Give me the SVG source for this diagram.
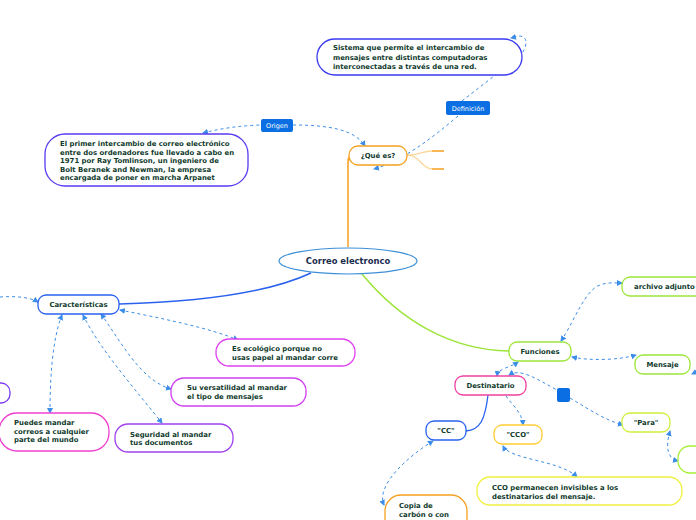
<svg xmlns="http://www.w3.org/2000/svg" width="696" height="520" viewBox="0 0 696 520">
<defs>
<marker id="ar" viewBox="0 0 6 6" refX="5" refY="3" markerWidth="6" markerHeight="6" orient="auto-start-reverse">
<path d="M0,0 L6,3 L0,6 Z" fill="#3d8ee8"/>
</marker>
</defs>
<style>
.n{fill:#fff;stroke-width:1.3}
.t{font-family:"DejaVu Sans",Verdana,sans-serif;font-weight:bold;font-size:6.9px;fill:#0f3a2c}
.d{fill:none;stroke:#3d8ee8;stroke-width:1;stroke-dasharray:3,3}
.lb{fill:#0b6fe3}
.lt{font-family:"DejaVu Sans",Verdana,sans-serif;font-size:6.5px;fill:#fff}
</style>
<rect width="696" height="520" fill="#fff"/>

<g id="connectors">
<path d="M348,247 L348,162 Q348,155 354,155" fill="none" stroke="#f5a020" stroke-width="1.5"/>
<path d="M407,155 C420,155 422,151 432,151 M407,155 C420,155 422,169 432,169" fill="none" stroke="#fcd79a" stroke-width="1.3"/>
<path d="M432,151 L444,151 M432,169 L444,169" stroke="#f5a020" stroke-width="1.5"/>
<path d="M311,273 C270,292 200,302 119,304" fill="none" stroke="#2a62ef" stroke-width="1.5"/>
<path d="M362,274 C400,320 450,350 509,351" fill="none" stroke="#9de53a" stroke-width="1.5"/>
<path d="M488,395 C485,420 480,430 466,431" fill="none" stroke="#2a62ef" stroke-width="1.3"/>

<path class="d" d="M203,133 Q230,126 261,125" marker-start="url(#ar)"/>
<path class="d" d="M293,125 C330,125 355,130 365,146" marker-end="url(#ar)"/>
<path class="d" d="M458,116 C430,140 400,162 374,169" marker-end="url(#ar)"/>
<path class="d" d="M462,101 L521,55 C528,45 528,36 519,36 L511,38" marker-end="url(#ar)"/>

<path class="d" d="M0,297 C15,296 30,297 38,302" marker-end="url(#ar)"/>
<path class="d" d="M120,310 C160,318 210,328 238,340" marker-start="url(#ar)" marker-end="url(#ar)"/>
<path class="d" d="M101,314 C120,340 140,380 171,389" marker-start="url(#ar)" marker-end="url(#ar)"/>
<path class="d" d="M83,315 C100,350 140,395 162,423" marker-start="url(#ar)" marker-end="url(#ar)"/>
<path class="d" d="M62,315 C52,340 50,380 50,413" marker-start="url(#ar)" marker-end="url(#ar)"/>

<path class="d" d="M561,341 C575,320 585,290 600,285 C608,282 615,283 622,283" marker-start="url(#ar)" marker-end="url(#ar)"/>
<path class="d" d="M572,357 C590,361 620,360 636,355" marker-start="url(#ar)" marker-end="url(#ar)"/>
<path class="d" d="M696,372 L692,374" marker-end="url(#ar)"/>
<path class="d" d="M497,376 C498,368 510,368 518,362" marker-start="url(#ar)" marker-end="url(#ar)"/>
<path class="d" d="M509,375 C520,368 535,378 557,390 M570,398 C590,410 605,420 623,425" marker-start="url(#ar)" marker-end="url(#ar)"/>
<path class="d" d="M506,396 C512,405 522,412 523,425" marker-end="url(#ar)"/>
<path class="d" d="M670,431 C666,445 666,458 678,461" marker-start="url(#ar)" marker-end="url(#ar)"/>
<path class="d" d="M503,446 C510,460 560,460 577,477" marker-start="url(#ar)" marker-end="url(#ar)"/>
<path class="d" d="M433,441 C410,455 375,485 384,505" marker-start="url(#ar)" marker-end="url(#ar)"/>
</g>

<g id="main">
<ellipse cx="348" cy="261" rx="69" ry="13" fill="#fff" stroke="#3d8fd8" stroke-width="1.2"/>
<text x="348" y="264" text-anchor="middle" font-family="DejaVu Sans,Verdana,sans-serif" font-weight="bold" font-size="8.4" fill="#1a2b4d">Correo electronco</text>
</g>

<g id="que-es">
<rect class="n" x="349" y="146" width="58" height="19" rx="9" stroke="#f5a020"/>
<text class="t" x="378" y="158" text-anchor="middle">¿Qué es?</text>
</g>

<g id="definicion-label">
<rect class="lb" x="446" y="101" width="44" height="14" rx="2"/>
<text class="lt" x="468" y="110.5" text-anchor="middle">Definición</text>
</g>

<g id="origen-label">
<rect class="lb" x="261" y="119" width="32" height="13" rx="2"/>
<text class="lt" x="277" y="128" text-anchor="middle">Origen</text>
</g>

<g id="sistema">
<rect class="n" x="317" y="39" width="205" height="36" rx="18" stroke="#3a3af2"/>
<text class="t" x="333" y="50">Sistema que permite el intercambio de</text>
<text class="t" x="333" y="60">mensajes entre distintas computadoras</text>
<text class="t" x="333" y="69">interconectadas a través de una red.</text>
</g>

<g id="primer">
<rect class="n" x="45" y="134" width="203" height="52" rx="20" stroke="#5a3af2"/>
<text class="t" x="60" y="146">El primer intercambio de correo electrónico</text>
<text class="t" x="60" y="155">entre dos ordenadores fue llevado a cabo en</text>
<text class="t" x="60" y="163">1971 por Ray Tomlinson, un ingeniero de</text>
<text class="t" x="60" y="172">Bolt Beranek and Newman, la empresa</text>
<text class="t" x="60" y="180">encargada de poner en marcha Arpanet</text>
</g>

<g id="caracteristicas">
<rect class="n" x="38" y="295" width="81" height="19" rx="8" stroke="#2a62ef"/>
<text class="t" x="78.5" y="307" text-anchor="middle">Características</text>
</g>

<g id="partial-left">
<rect class="n" x="-20" y="383" width="30" height="20" rx="9" stroke="#7a3af0"/>
</g>

<g id="ecologico">
<rect class="n" x="216" y="339" width="139" height="27" rx="13" stroke="#e040f0"/>
<text class="t" x="232" y="351">Es ecológico porque no</text>
<text class="t" x="232" y="360">usas papel al mandar corre</text>
</g>

<g id="versatilidad">
<rect class="n" x="171" y="378" width="135" height="28" rx="13" stroke="#d040f0"/>
<text class="t" x="187" y="390">Su versatilidad al mandar</text>
<text class="t" x="187" y="399">el tipo de mensajes</text>
</g>

<g id="seguridad">
<rect class="n" x="115" y="424" width="118" height="28" rx="13" stroke="#a040f0"/>
<text class="t" x="130" y="437">Seguridad al mandar</text>
<text class="t" x="130" y="445">tus documentos</text>
</g>

<g id="puedes">
<rect class="n" x="-1" y="413" width="110" height="38" rx="18" stroke="#f040d0"/>
<text class="t" x="14" y="425">Puedes mandar</text>
<text class="t" x="14" y="434">correos a cualquier</text>
<text class="t" x="14" y="442">parte del mundo</text>
</g>

<g id="funciones">
<rect class="n" x="509" y="342" width="62" height="19" rx="8" stroke="#9de53a"/>
<text class="t" x="540" y="354" text-anchor="middle">Funciones</text>
</g>

<g id="adjunto">
<rect class="n" x="622" y="277" width="84" height="19" rx="8" stroke="#9de53a"/>
<text class="t" x="634" y="289">archivo adjunto</text>
</g>

<g id="mensaje">
<rect class="n" x="635" y="355" width="55" height="19" rx="8" stroke="#9de53a"/>
<text class="t" x="662.5" y="367" text-anchor="middle">Mensaje</text>
</g>

<g id="destinatario">
<rect class="n" x="455" y="376" width="71" height="19" rx="8" stroke="#f040a0"/>
<text class="t" x="490.5" y="388" text-anchor="middle">Destinatario</text>
</g>

<g id="empty-label">
<rect class="lb" x="557" y="388" width="13" height="14" rx="2"/>
</g>

<g id="cc">
<rect class="n" x="426" y="421" width="40" height="19" rx="8" stroke="#2a62ef"/>
<text class="t" x="446" y="433" text-anchor="middle">"CC"</text>
</g>

<g id="cco">
<rect class="n" x="494" y="425" width="48" height="19" rx="8" stroke="#ffcc33"/>
<text class="t" x="518" y="437" text-anchor="middle">"CCO"</text>
</g>

<g id="para">
<rect class="n" x="622" y="413" width="48" height="19" rx="8" stroke="#cdf03a"/>
<text class="t" x="646" y="425" text-anchor="middle">"Para"</text>
</g>

<g id="partial-right">
<rect class="n" x="678" y="446" width="40" height="27" rx="12" stroke="#a8ef3a"/>
</g>

<g id="cco-permanecen">
<rect class="n" x="477" y="477" width="205" height="28" rx="13" stroke="#f0f040"/>
<text class="t" x="492" y="490">CCO permanecen invisibles a los</text>
<text class="t" x="492" y="499">destinatarios del mensaje.</text>
</g>

<g id="copia">
<rect class="n" x="385" y="495" width="82" height="42" rx="16" stroke="#f5a020"/>
<text class="t" x="399" y="508">Copia de</text>
<text class="t" x="399" y="517">carbón o con</text>
</g>
</svg>
